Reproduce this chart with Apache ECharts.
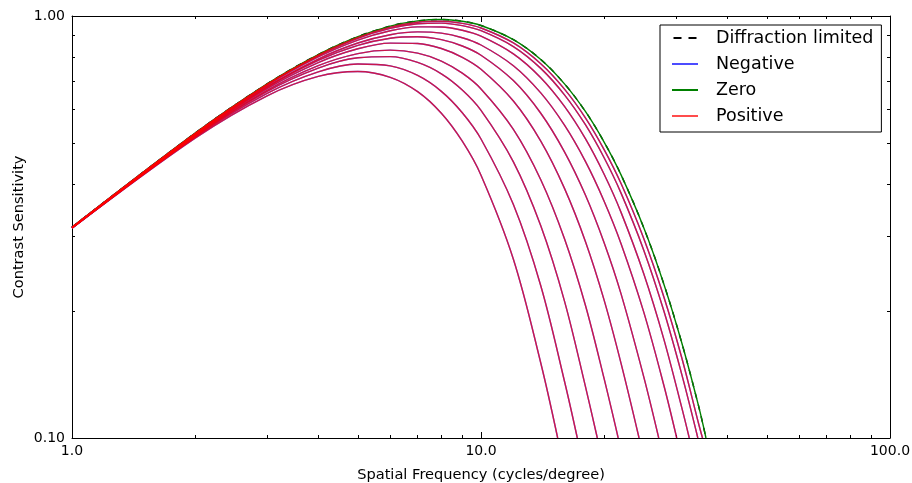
<!DOCTYPE html>
<html><head><meta charset="utf-8">
<script src="https://cdn.jsdelivr.net/npm/echarts@6/dist/echarts.min.js"></script>
<style>html,body{margin:0;padding:0;background:#fff}#c{width:912px;height:483px}</style>
</head><body><div id="c"></div>
<script>
// Spatial frequency grid (cycles/degree)
const freqs = [1, 2, 3, 4, 5, 6, 7, 8, 9, 10, 12, 14, 16, 18, 20, 22, 25, 28, 31, 34];

// Diffraction limited and zero-defocus curves
const diffractionLimited = [0.316, 0.5279, 0.6907, 0.8105, 0.8937, 0.9464, 0.9738, 0.981, 0.9715, 0.9494, 0.879, 0.7887, 0.6906, 0.594, 0.5027, 0.4203, 0.315, 0.2315, 0.1675, 0.1196];
const zeroDefocus = [0.316, 0.5279, 0.6907, 0.8105, 0.8937, 0.9464, 0.9738, 0.981, 0.9715, 0.9494, 0.879, 0.7887, 0.6906, 0.594, 0.5027, 0.4203, 0.315, 0.2315, 0.1675, 0.1196];
const zeroCutoff = 35.49;

// Defocused curves (negative and positive defocus coincide)
const defocus1 = [0.3140, 0.5134, 0.6471, 0.7194, 0.7386, 0.7157, 0.6618, 0.5883, 0.5049, 0.4195, 0.2653, 0.1506];
const defocus2 = [0.3143, 0.5160, 0.6554, 0.7373, 0.7696, 0.7615, 0.7228, 0.6629, 0.5899, 0.5111, 0.3574, 0.2295, 0.1363];
const defocus3 = [0.3145, 0.5182, 0.6625, 0.7526, 0.7960, 0.8011, 0.7762, 0.7295, 0.6678, 0.5976, 0.4513, 0.3183, 0.2111, 0.1325];
const defocus4 = [0.3146, 0.5194, 0.6669, 0.7628, 0.8146, 0.8301, 0.8169, 0.7822, 0.7320, 0.6718, 0.5389, 0.4094, 0.2967, 0.2064, 0.1382];
const defocus5 = [0.3149, 0.5215, 0.6731, 0.7757, 0.8363, 0.8624, 0.8606, 0.8375, 0.7980, 0.7475, 0.6287, 0.5052, 0.3904, 0.2922, 0.2122, 0.1503];
const defocus6 = [0.3151, 0.5229, 0.6774, 0.7847, 0.8520, 0.8858, 0.8930, 0.8790, 0.8490, 0.8073, 0.7029, 0.5882, 0.4765, 0.3764, 0.2902, 0.2195, 0.1396];
const defocus7 = [0.3152, 0.5236, 0.6801, 0.7908, 0.8629, 0.9030, 0.9169, 0.9106, 0.8880, 0.8536, 0.7624, 0.6573, 0.5511, 0.4523, 0.3641, 0.2887, 0.1987, 0.1332];
const defocus8 = [0.3155, 0.5256, 0.6849, 0.7997, 0.8768, 0.9225, 0.9424, 0.9420, 0.9251, 0.8959, 0.8133, 0.7141, 0.6106, 0.5120, 0.4216, 0.3425, 0.2450, 0.1713, 0.1175];
const defocus9 = [0.3158, 0.5268, 0.6879, 0.8052, 0.8854, 0.9346, 0.9583, 0.9618, 0.9486, 0.9229, 0.8464, 0.7514, 0.6504, 0.5525, 0.4614, 0.3804, 0.2787, 0.1999, 0.1409];
const defocus10 = [0.3159, 0.5274, 0.6893, 0.8080, 0.8897, 0.9408, 0.9664, 0.9718, 0.9605, 0.9367, 0.8633, 0.7707, 0.6711, 0.5738, 0.4825, 0.4008, 0.2971, 0.2159, 0.1543, 0.1087];
const defocusCutoffs = [15.4, 17.2, 19.25, 21.65, 24.35, 27.2, 30.1, 32.3, 33.9, 34.8];

// Ticks
const xMinorTicks = [2, 3, 4, 5, 6, 7, 8, 9, 20, 30, 40, 50, 60, 70, 80, 90];
const yMinorTicks = [0.2, 0.3, 0.4, 0.5, 0.6, 0.7, 0.8, 0.9];
const legendNames = ['Diffraction limited', 'Negative', 'Zero', 'Positive'];

const defocusCurves = [defocus1, defocus2, defocus3, defocus4, defocus5, defocus6, defocus7, defocus8, defocus9, defocus10];
const FONT = 'DejaVu Sans';

function build(vals, cutoff) {
  const d = vals.map((v, i) => [freqs[i], v]);
  d.push([cutoff, 0.1]);
  return d;
}
function lineSeries(name, data, color, type, z) {
  return {
    name: name, type: 'line', data: data, xAxisIndex: 0, yAxisIndex: 0,
    symbol: 'none', showSymbol: false, smooth: 0.35,
    silent: true, z: z, clip: true,
    lineStyle: { color: color, width: 1.4, type: type || 'solid', join: 'round' },
    itemStyle: { color: color },
    emphasis: { disabled: true }
  };
}

const series = [];
series.push(lineSeries('Diffraction limited', build(diffractionLimited, zeroCutoff), '#000000', [6, 6], 2));
defocusCurves.forEach((c, i) => series.push(lineSeries('Negative', build(c, defocusCutoffs[i]), 'rgba(0,0,255,0.7)', 'solid', 3)));
series.push(lineSeries('Zero', build(zeroDefocus, zeroCutoff), '#008000', 'solid', 4));
defocusCurves.forEach((c, i) => series.push(lineSeries('Positive', build(c, defocusCutoffs[i]), 'rgba(255,0,0,0.7)', 'solid', 5)));

function axisBase(min, max, position) {
  return {
    type: 'log', logBase: 10, min: min, max: max, position: position,
    splitLine: { show: false }, splitArea: { show: false },
    axisLine: { show: true, onZero: false, lineStyle: { color: '#000', width: 1 } },
    axisTick: { show: true, inside: true, length: 6, lineStyle: { color: '#000', width: 1 } },
    axisLabel: { show: false },
    silent: true
  };
}
function minorAxis(min, max, position, ticks) {
  const a = axisBase(min, max, position);
  a.axisLine = { show: false, onZero: false };
  a.axisTick = { show: true, inside: true, length: 3, customValues: ticks, lineStyle: { color: '#000', width: 1 } };
  return a;
}

const xMain = axisBase(1, 100, 'bottom');
xMain.axisLabel = { show: true, formatter: v => Number(v).toFixed(1), fontSize: 14, fontFamily: FONT, color: '#000', margin: 6 };
xMain.name = 'Spatial Frequency (cycles/degree)';
xMain.nameLocation = 'middle';
xMain.nameGap = 30;
xMain.nameMoveOverlap = false;
xMain.nameTextStyle = { fontSize: 14.6, fontFamily: FONT, color: '#000' };

const yMain = axisBase(0.1, 1, 'left');
yMain.axisLabel = { show: true, formatter: v => Number(v).toFixed(2), fontSize: 14, fontFamily: FONT, color: '#000', margin: 7 };
yMain.name = 'Contrast Sensitivity';
yMain.nameLocation = 'middle';
yMain.nameGap = 45;
yMain.nameRotate = 90;
yMain.nameMoveOverlap = false;
yMain.nameTextStyle = { fontSize: 14.6, fontFamily: FONT, color: '#000' };

const chart = echarts.init(document.getElementById('c'), null, { renderer: 'canvas' });
chart.setOption({
  animation: false,
  backgroundColor: '#fff',
  grid: { left: 72, right: 22, top: 16, bottom: 45, containLabel: false, outerBoundsMode: 'none' },
  xAxis: [xMain, axisBase(1, 100, 'top'), minorAxis(1, 100, 'bottom', xMinorTicks), minorAxis(1, 100, 'top', xMinorTicks)],
  yAxis: [yMain, axisBase(0.1, 1, 'right'), minorAxis(0.1, 1, 'left', yMinorTicks), minorAxis(0.1, 1, 'right', yMinorTicks)],
  legend: {
    data: [
      { name: legendNames[0], icon: 'path://M0,0h8v2h-8zM15,0h8v2h-8z' },
      { name: legendNames[1], icon: 'rect' },
      { name: legendNames[2], icon: 'rect' },
      { name: legendNames[3], icon: 'rect' }
    ],
    orient: 'vertical', left: 660, top: 25,
    itemWidth: 26, itemHeight: 2, itemGap: 8,
    padding: [4, 8, 7, 12],
    borderColor: '#000', borderWidth: 1, backgroundColor: '#fff', borderRadius: 0,
    selectedMode: false,
    textStyle: { fontSize: 17.5, fontFamily: FONT, color: '#000', lineHeight: 18, padding: [0, 0, 0, 13] }
  },
  series: series
});
</script></body></html>
